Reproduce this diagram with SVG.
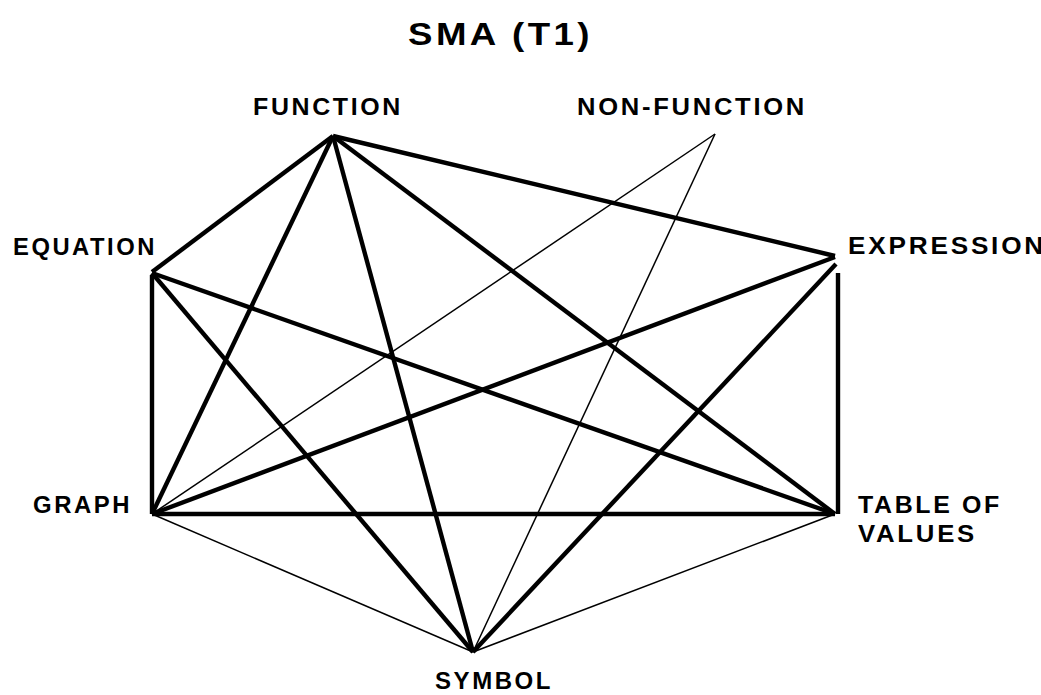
<svg xmlns="http://www.w3.org/2000/svg" width="1041" height="695" viewBox="0 0 1041 695">
<style>
  .thick { stroke: #000; stroke-width: 4.4; fill: none; stroke-linecap: butt; }
  .thin { stroke: #000; stroke-width: 1.5; fill: none; }
  .lbl { font-family: "Liberation Sans", Arial, sans-serif; font-weight: bold; font-size: 23.5px; letter-spacing: 2.5px; fill: #000; }
  .title { font-family: "Liberation Sans", Arial, sans-serif; font-weight: bold; font-size: 32px; letter-spacing: 3px; fill: #000; }
</style>
<rect width="1041" height="695" fill="#fff"/>
<text class="title" x="408" y="45" textLength="185" lengthAdjust="spacingAndGlyphs">SMA (T1)</text>
<g id="connectors">
  <line class="thick" x1="333" y1="136" x2="152" y2="272"/>
  <line class="thick" x1="333" y1="136" x2="152" y2="514"/>
  <line class="thick" x1="333" y1="136" x2="473" y2="652"/>
  <line class="thick" x1="333" y1="136" x2="835" y2="514"/>
  <line class="thick" x1="333" y1="136" x2="835" y2="256"/>
  <line class="thick" x1="152" y1="275" x2="152" y2="514"/>
  <line class="thick" x1="152" y1="273" x2="835" y2="514"/>
  <line class="thick" x1="152" y1="273" x2="473" y2="652"/>
  <line class="thick" x1="152" y1="514" x2="835" y2="257"/>
  <line class="thick" x1="152" y1="514" x2="835" y2="514"/>
  <line class="thick" x1="836" y1="264" x2="473" y2="652"/>
  <line class="thick" x1="838" y1="273" x2="838" y2="514"/>
  <line class="thin" x1="715" y1="134" x2="152" y2="514"/>
  <line class="thin" x1="715" y1="134" x2="473" y2="652"/>
  <line class="thin" x1="152" y1="514" x2="473" y2="652"/>
  <line class="thin" x1="835" y1="514" x2="473" y2="652"/>
</g>
<g id="function"><text class="lbl" x="253" y="115" textLength="150" lengthAdjust="spacingAndGlyphs">FUNCTION</text></g>
<g id="non-function"><text class="lbl" x="577" y="115" textLength="230" lengthAdjust="spacingAndGlyphs">NON-FUNCTION</text></g>
<g id="equation"><text class="lbl" x="13" y="255" textLength="144" lengthAdjust="spacingAndGlyphs">EQUATION</text></g>
<g id="expression"><text class="lbl" x="848" y="254" textLength="198" lengthAdjust="spacingAndGlyphs">EXPRESSION</text></g>
<g id="graph"><text class="lbl" x="33" y="513" textLength="99" lengthAdjust="spacingAndGlyphs">GRAPH</text></g>
<g id="table-of-values">
  <text class="lbl" x="858" y="513" textLength="144" lengthAdjust="spacingAndGlyphs">TABLE OF</text>
  <text class="lbl" x="858" y="542" textLength="119" lengthAdjust="spacingAndGlyphs">VALUES</text>
</g>
<g id="symbol"><text class="lbl" x="435" y="689" textLength="118" lengthAdjust="spacingAndGlyphs">SYMBOL</text></g>
</svg>
